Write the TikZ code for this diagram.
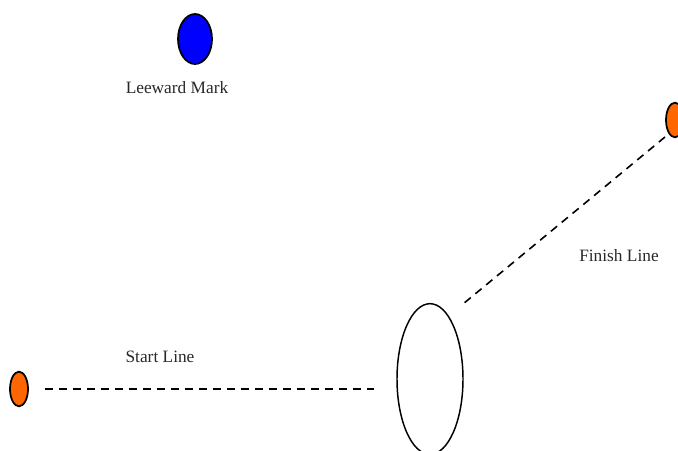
\documentclass[tikz,border=0pt]{standalone}
\usepackage{fontspec}
\setmainfont{Liberation Serif}
\usepackage{tikz}
\usetikzlibrary{shapes.geometric, positioning}
\definecolor{markblue}{RGB}{0,0,255}
\definecolor{markorange}{RGB}{255,102,0}
\definecolor{labelgray}{RGB}{40,40,40}
\tikzset{
  buoy/.style={ellipse, draw=black, line width=1.3pt, inner sep=0pt},
  bluebuoy/.style={buoy, fill=markblue, minimum width=25.5pt, minimum height=37.5pt},
  orangebuoy/.style={buoy, fill=markorange, minimum width=13.5pt, minimum height=26pt},
  boat/.style={ellipse, draw=black, line width=1.1pt, inner sep=0pt,
    minimum width=49.5pt, minimum height=113pt},
  label/.style={font=\fontsize{13}{15}\selectfont, text=labelgray},
  courseline/.style={line width=1.2pt, dash pattern=on 6pt off 4.5pt}
}

\begin{document}
\begin{tikzpicture}[x=0.75pt, y=-0.75pt]
  \useasboundingbox (0,0) rectangle (678,450);
  \clip (0,0) rectangle (678,450);

  % Marks
  \node[bluebuoy] (leeward) at (195,39) {};
  \node[orangebuoy] (startpin) at (19,389) {};
  \node[orangebuoy] (finishpin) at (675,120) {};
  \node[boat] (committee) at (430,379) {};

  % Labels
  \node[label, below=9pt of leeward, xshift=-13.5pt] (leewardlbl) {Leeward Mark};
  \node[label] (startlbl) at (160,357) {Start Line};
  \node[label] (finishlbl) at (619,256) {Finish Line};

  % Start and finish lines
  \coordinate (startend) at (374,389);
  \coordinate (finishend) at (463,304);
  \coordinate (finishtop) at (665,137);
  \draw[courseline] (startpin.east) ++(12pt,0) -- (startend);
  \draw[courseline] (finishtop) -- (finishend);
\end{tikzpicture}
\end{document}
